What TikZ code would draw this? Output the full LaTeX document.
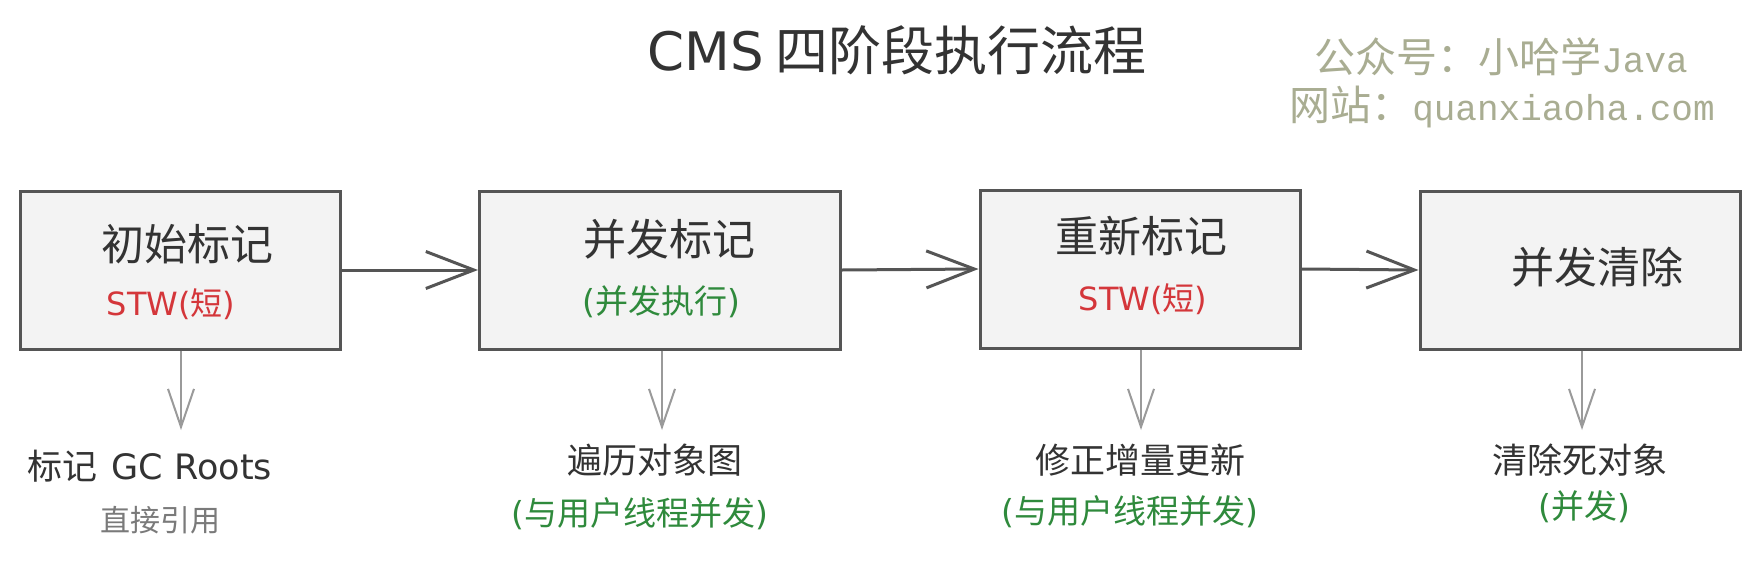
\documentclass[tikz,border=0pt]{standalone}
\usepackage{fontspec}
\setmainfont{Noto Sans CJK SC}
\newfontfamily\latinmark{Liberation Mono}
\newfontfamily\handlatin{DejaVu Sans}
\usetikzlibrary{arrows.meta}

\definecolor{boxline}{HTML}{555555}
\definecolor{boxfill}{HTML}{F3F3F3}
\definecolor{darktext}{HTML}{333333}
\definecolor{stwred}{HTML}{D4363A}
\definecolor{concgreen}{HTML}{2F8A3C}
\definecolor{downgray}{HTML}{9A9A9A}
\definecolor{notegray}{HTML}{7A7A7A}
\definecolor{markolive}{HTML}{A9AD92}

\newcommand{\lat}[1]{{\handlatin #1}}

\tikzset{
	stage/.style={draw=boxline, fill=boxfill, line width=3pt, minimum width=320pt, minimum height=158pt, inner sep=0pt},
	stagename/.style={text=darktext, font=\fontsize{43}{48}\selectfont},
	stw/.style={text=stwred, font=\fontsize{32}{36}\selectfont},
	conc/.style={text=concgreen, font=\fontsize{33}{38}\selectfont},
	result/.style={text=darktext, font=\fontsize{35}{40}\selectfont},
	flow/.style={draw=boxline, line width=3pt, -{Straight Barb[length=48pt, width=37pt, line width=3pt]}},
	down/.style={draw=downgray, line width=2pt, -{Straight Barb[length=38pt, width=26pt, line width=2pt]}},
	watermark/.style={text=markolive, font=\fontsize{41}{46}\selectfont}
}

\begin{document}
\begin{tikzpicture}[x=1pt, y=-1pt]
		\useasboundingbox[fill=white] (0,0) rectangle (1760,565);
		\node[text=darktext, font=\fontsize{53}{58}\selectfont] (title) at (897,50) {\lat{CMS} 四阶段执行流程};
		\node[watermark] (mark1) at (1501,57) {公众号：小哈学{\latinmark\fontsize{36}{40}\selectfont Java}};
		\node[watermark] (mark2) at (1502,107) {网站：{\latinmark\fontsize{36}{40}\selectfont quanxiaoha.com}};
		% STAGES
		\node[stage] (b1) at (180,270) {};
		\node[stagename] (b1name) at (187,244) {初始标记};
		\node[stw] (b1note) at (171,304) {\lat{STW(}短\lat{)}};
		\node[stage, minimum width=361pt] (b2) at (660,270) {};
		\node[stagename] (b2name) at (669,239) {并发标记};
		\node[conc] (b2note) at (661,302) {\lat{(}并发执行\lat{)}};
		\node[stage] (b3) at (1140,269) {};
		\node[stagename] (b3name) at (1141,236) {重新标记};
		\node[stw] (b3note) at (1143,299) {\lat{STW(}短\lat{)}};
		\node[stage] (b4) at (1580,270) {};
		\node[stagename] (b4name) at (1597,267) {并发清除};
		\draw[flow] (b1.east) -- (b2.west);
		\draw[flow] (b2.east) -- (b3.west);
		\draw[flow] (b3.east) -- (b4.west);
		% RESULTS
		\coordinate (e1) at (181,430);
		\coordinate (e2) at (662,430);
		\coordinate (e3) at (1141,430);
		\coordinate (e4) at (1582,430);
		\draw[down] (b1.south -| e1) -- (e1);
		\draw[down] (b2.south -| e2) -- (e2);
		\draw[down] (b3.south -| e3) -- (e3);
		\draw[down] (b4.south -| e4) -- (e4);
		\node[result] (r1) at (150,466) {标记\hspace{6pt} \lat{GC Roots}};
		\node[text=notegray, font=\fontsize{30}{34}\selectfont] (r1note) at (160,520) {直接引用};
		\node[result] (r2) at (655,460) {遍历对象图};
		\node[conc] (r2note) at (640,514) {\lat{(}与用户线程并发\lat{)}};
		\node[result] (r3) at (1140,460) {修正增量更新};
		\node[conc] (r3note) at (1130,512) {\lat{(}与用户线程并发\lat{)}};
		\node[result] (r4) at (1580,460) {清除死对象};
		\node[conc] (r4note) at (1584,507) {\lat{(}并发\lat{)}};
	\end{tikzpicture}
\end{document}
